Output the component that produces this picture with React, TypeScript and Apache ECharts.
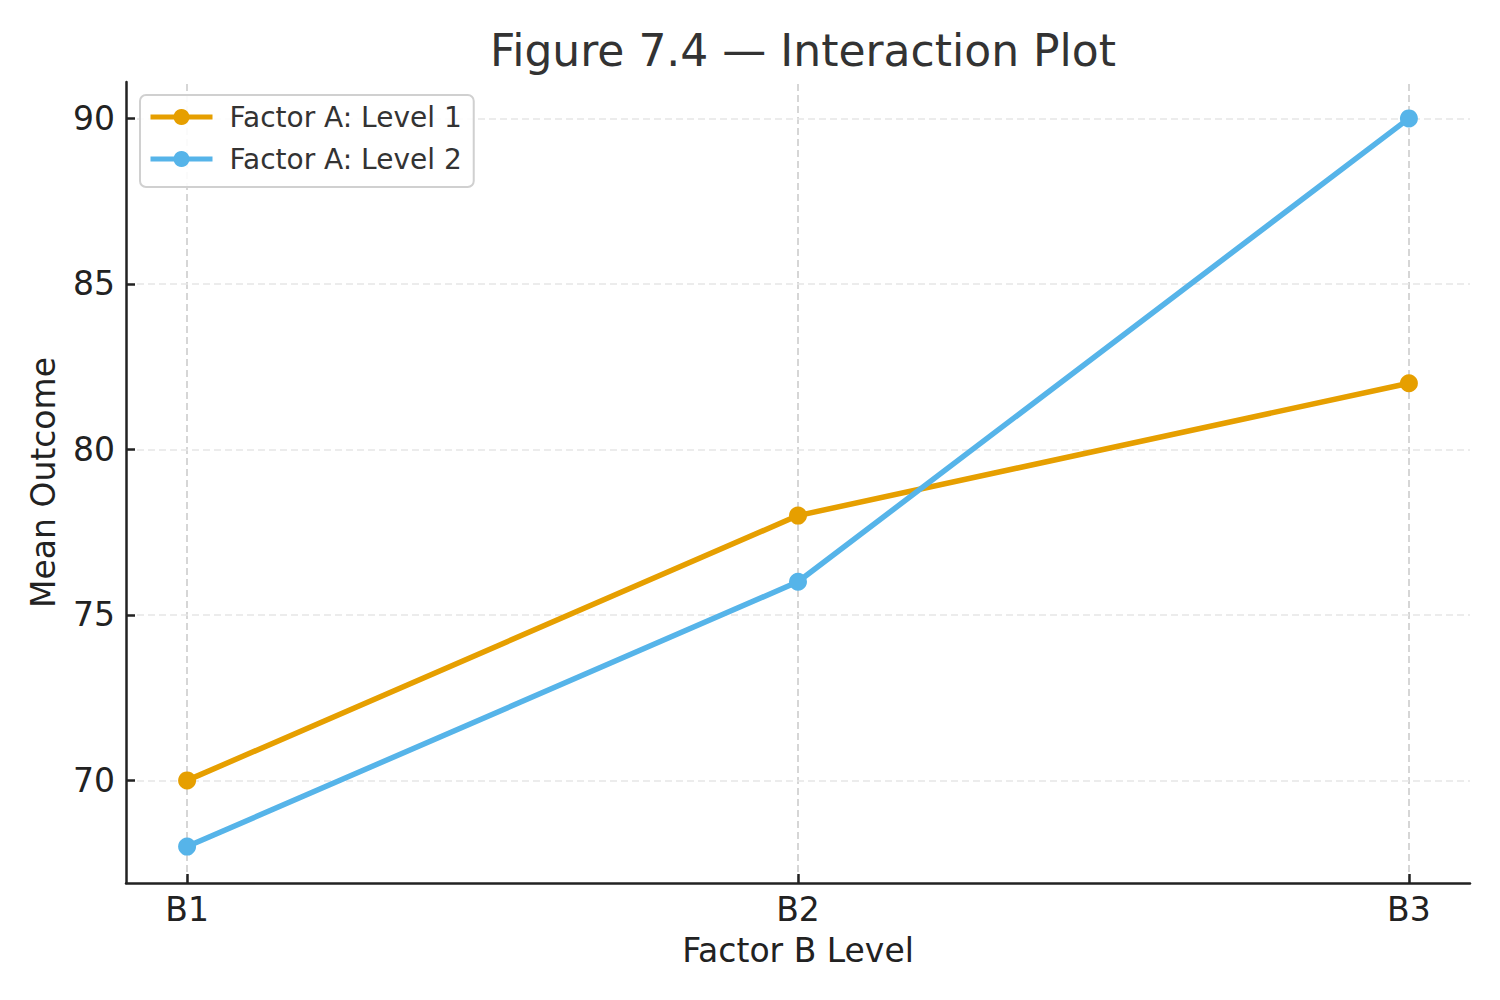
import React, { useEffect, useRef } from "react";
import * as echarts from "echarts";

const categories = ["B1", "B2", "B3"];
const level1 = [70, 78, 82];
const level2 = [68, 76, 90];
const yTicks = [70, 75, 80, 85, 90];
const seriesNames = ["Factor A: Level 1", "Factor A: Level 2"];
const colors = ["#E69F00", "#56B4E9"];

const FONT = "DejaVu Sans";

export default function App() {
  const ref = useRef<HTMLDivElement>(null);
  useEffect(() => {
    if (!ref.current) return;
    const chart = echarts.init(ref.current, null, { renderer: "svg" });
    const xIdx = categories.map((_, i) => i);
    const toPts = (arr: number[]) => arr.map((v, i) => [i, v]);
    const option: any = {
      animation: false,
      backgroundColor: "#ffffff",
      textStyle: { fontFamily: FONT },
      title: {
        text: "Figure 7.4 — Interaction Plot",
        left: 798,
        top: 23,
        textAlign: "center",
        textStyle: { fontFamily: FONT, fontSize: 44, fontWeight: "normal", color: "#333333" },
      },
      grid: { left: 126, right: 30, top: 82, bottom: 117, containLabel: false },
      legend: {
        orient: "vertical",
        left: 140,
        top: 95,
        z: 10,
        data: seriesNames,
        itemWidth: 62,
        itemHeight: 20,
        itemGap: 14,
        padding: [8, 12, 14, 8],
        borderColor: "#d0d0d0",
        borderWidth: 2,
        borderRadius: 6,
        backgroundColor: "rgba(255,255,255,0.9)",
        lineStyle: { width: 5 },
        textStyle: { fontFamily: FONT, fontSize: 28, color: "#333333", padding: [0, 0, 0, 12] },
      },
      xAxis: {
        type: "value",
        min: -0.1,
        max: 2.1,
        axisLine: { show: true, onZero: false, lineStyle: { color: "#222222", width: 2.5 } },
        axisTick: { show: true, inside: true, length: 9, customValues: xIdx, lineStyle: { color: "#222222", width: 2.5 } },
        axisLabel: {
          customValues: xIdx,
          formatter: (v: number) => categories[Math.round(v)] ?? "",
          fontFamily: FONT,
          fontSize: 33,
          color: "#222222",
          margin: 10,
        },
        splitLine: { show: false },
        name: "Factor B Level",
        nameLocation: "middle",
        nameGap: 51,
        nameTextStyle: { fontFamily: FONT, fontSize: 33, color: "#222222", verticalAlign: "top" },
      },
      yAxis: {
        type: "value",
        min: 66.9,
        max: 91.1,
        axisLine: { show: true, onZero: false, lineStyle: { color: "#222222", width: 2.5 } },
        axisTick: { show: true, inside: true, length: 9, customValues: yTicks, lineStyle: { color: "#222222", width: 2.5 } },
        axisLabel: { customValues: yTicks, fontFamily: FONT, fontSize: 33, color: "#222222", margin: 11 },
        splitLine: { show: false },
        name: "Mean Outcome",
        nameLocation: "middle",
        nameGap: 66,
        nameTextStyle: { fontFamily: FONT, fontSize: 33, color: "#222222" },
      },
      series: [
        {
          name: "gridlines",
          type: "line",
          data: [],
          silent: true,
          z: 0,
          markLine: {
            silent: true,
            z: 0,
            symbol: "none",
            label: { show: false },
            animation: false,
            data: [
              ...xIdx.map((x) => ({ xAxis: x, lineStyle: { color: "#cccccc", type: [7, 4], width: 1.6 } })),
              ...yTicks.map((y) => ({ yAxis: y, lineStyle: { color: "#e6e6e6", type: [7, 4], width: 1.6 } })),
            ],
          },
        },
        ...[level1, level2].map((arr, i) => ({
          name: seriesNames[i],
          type: "line",
          data: toPts(arr),
          z: 3 + i,
          symbol: "circle",
          symbolSize: 18,
          showSymbol: true,
          lineStyle: { color: colors[i], width: 5.5 },
          itemStyle: { color: colors[i], borderWidth: 0 },
        })),
      ],
    };
    chart.setOption(option);
    return () => chart.dispose();
  }, []);
  return (
    <div
      ref={ref}
      style={{ position: "fixed", left: 0, top: 0, width: 1500, height: 1000 }}
    />
  );
}
